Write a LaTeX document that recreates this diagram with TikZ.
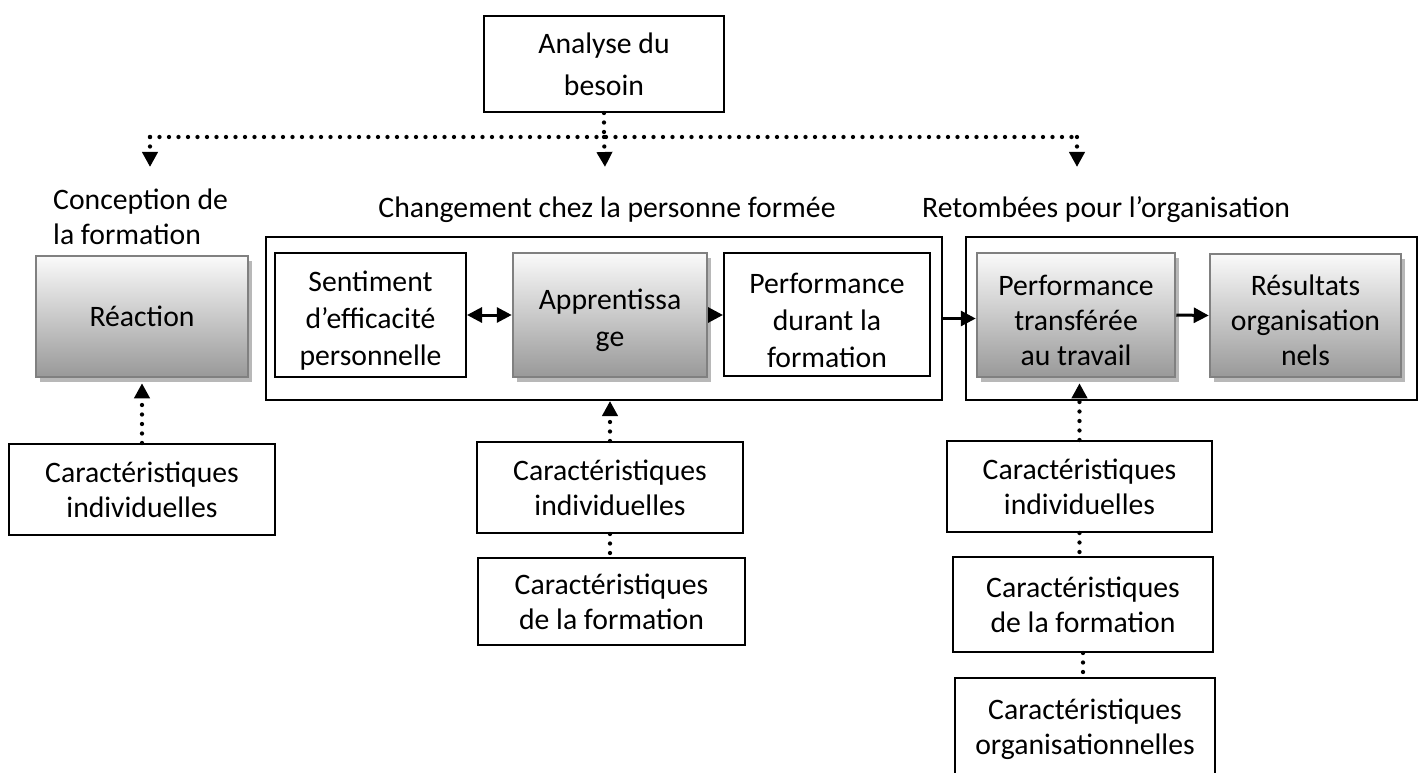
\documentclass[tikz,border=0pt]{standalone}
\usepackage{fontspec}
\setmainfont{Carlito}
\usetikzlibrary{arrows.meta,shadows,calc}
\begin{document}
\begin{tikzpicture}[x=1pt,y=-1pt,
  txt/.style={font=\fontsize{29.7}{35}\selectfont, align=center, inner sep=0pt},
  txt3/.style={font=\fontsize{29.7}{37}\selectfont, align=center, inner sep=0pt},
  lbl/.style={font=\fontsize{29.7}{35}\selectfont, inner sep=0pt},
  wbox/.style={txt, draw=black, line width=2pt, fill=white},
  frame/.style={draw=black, line width=2pt, inner sep=0pt},
  gbox/.style={txt, draw=black!50, line width=2.5pt, top color=black!2, bottom color=black!40,
    drop shadow={shadow xshift=4pt, shadow yshift=-5pt, fill=black!28, opacity=1}},
  tip/.style={-{Triangle[length=15pt,width=15pt]}},
  arr/.style={line width=3pt, tip},
  dbl/.style={line width=3pt, {Triangle[length=15pt,width=15pt]}-{Triangle[length=15pt,width=15pt]}},
  dotline/.style={line width=4.3pt, line cap=round, dash pattern=on 0pt off 9.5pt},
  dotarr/.style={dotline, tip}]
\clip (0,0) rectangle (1422,773);
\fill[white] (0,0) rectangle (1422,773);

% top: needs analysis and its three branches
\node[wbox, minimum width=240pt, minimum height=96pt, font=\fontsize{29.7}{42}\selectfont] (analyse) at (604,64) {Analyse du\\besoin};
\coordinate (jl) at (150,137);
\coordinate (jr) at (1077,137);
\coordinate (tl) at (150,167);
\coordinate (tm) at (605,167);
\coordinate (tr) at (1077,167);

% section headings
\node[lbl, align=left, anchor=west] (concept) at (53,217) {Conception de\\la formation};
\node[lbl] (chg) at (607,210) {Changement chez la personne formée};
\node[lbl, anchor=west] (ret) at (922,210) {Retombées pour l’organisation};

% group frames
\node[frame, minimum width=676pt, minimum height=163pt] (outer1) at (604,318.5) {};
\node[frame, minimum width=451pt, minimum height=163pt] (outer2) at (1191.5,318.5) {};

% main row (box first, its text set slightly below the centre)
\node[gbox, minimum width=212pt, minimum height=121pt] (reaction) at (142,316.5) {Réaction};
\node[wbox, minimum width=191pt, minimum height=124pt,
  label={[txt3, yshift=-6pt, name=sentimentT]center:{Sentiment\\d’efficacité\\personnelle}}] (sentiment) at (370.5,315) {};
\node[gbox, minimum width=194pt, minimum height=124pt,
  label={[txt3, yshift=-5pt, name=apprentT]center:{Apprentissa\\ge}}] (apprent) at (610,315) {};
\node[wbox, minimum width=206pt, minimum height=123pt,
  label={[txt3, yshift=-6pt, name=perfdurT]center:{Performance\\durant la\\formation}}] (perfdur) at (827,314.5) {};
\node[gbox, minimum width=198pt, minimum height=124pt,
  label={[txt, yshift=-5pt, name=perftrT]center:{Performance\\transférée\\au travail}}] (perftr) at (1076,315) {};
\node[gbox, minimum width=191pt, minimum height=123pt,
  label={[txt, yshift=-5pt, name=resultT]center:{Résultats\\organisation\\nels}}] (result) at (1305.5,315.5) {};

% characteristics
\node[wbox, minimum width=266pt, minimum height=91pt] (carL) at (142,489.5) {Caractéristiques\\individuelles};
\node[wbox, minimum width=266pt, minimum height=91pt] (carM1) at (610,487.5) {Caractéristiques\\individuelles};
\node[wbox, minimum width=267pt, minimum height=87pt] (carM2) at (611.5,601.5) {Caractéristiques\\de la formation};
\node[wbox, minimum width=265pt, minimum height=91pt] (carR1) at (1079.5,486.5) {Caractéristiques\\individuelles};
\node[wbox, minimum width=260pt, minimum height=95pt] (carR2) at (1083,604.5) {Caractéristiques\\de la formation};
\node[wbox, minimum width=260pt, minimum height=98pt,
  label={[txt, yshift=-2pt, name=carR3T]center:{Caractéristiques\\organisationnelles}}] (carR3) at (1085,727) {};

% dotted branches from the needs analysis
\draw[dotline] (analyse.south) -- (analyse.south |- jl);
\draw[dotline] (jl) -- (jr);
\draw[dotarr] (jl) -- (tl);
\draw[dotarr] (analyse.south |- jl) -- (tm);
\draw[dotarr] (jr) -- (tr);

% solid flow
\draw[dbl] (sentiment.east) -- (apprent.west);
\draw[arr] (apprent.east) -- (apprent.east -| perfdur.west);
\draw[arr] (outer1.east) -- (outer1.east -| perftr.west);
\draw[arr] (perftr.east) -- (result.west);

% dotted influences
\draw[dotarr] (carL.north) -- ($(reaction.south)+(0,5)$);
\draw[dotarr] (carM1.north) -- (carM1.north |- outer1.south);
\draw[dotline] (carM1.south) -- (carM1.south |- carM2.north);
\draw[dotarr] (carR1.north) -- ($(carR1.north |- perftr.south)+(0,5)$);
\draw[dotline] (carR1.south) -- (carR1.south |- carR2.north);
\draw[dotline] (carR2.south) -- (carR2.south |- carR3.north);
\end{tikzpicture}
\end{document}
